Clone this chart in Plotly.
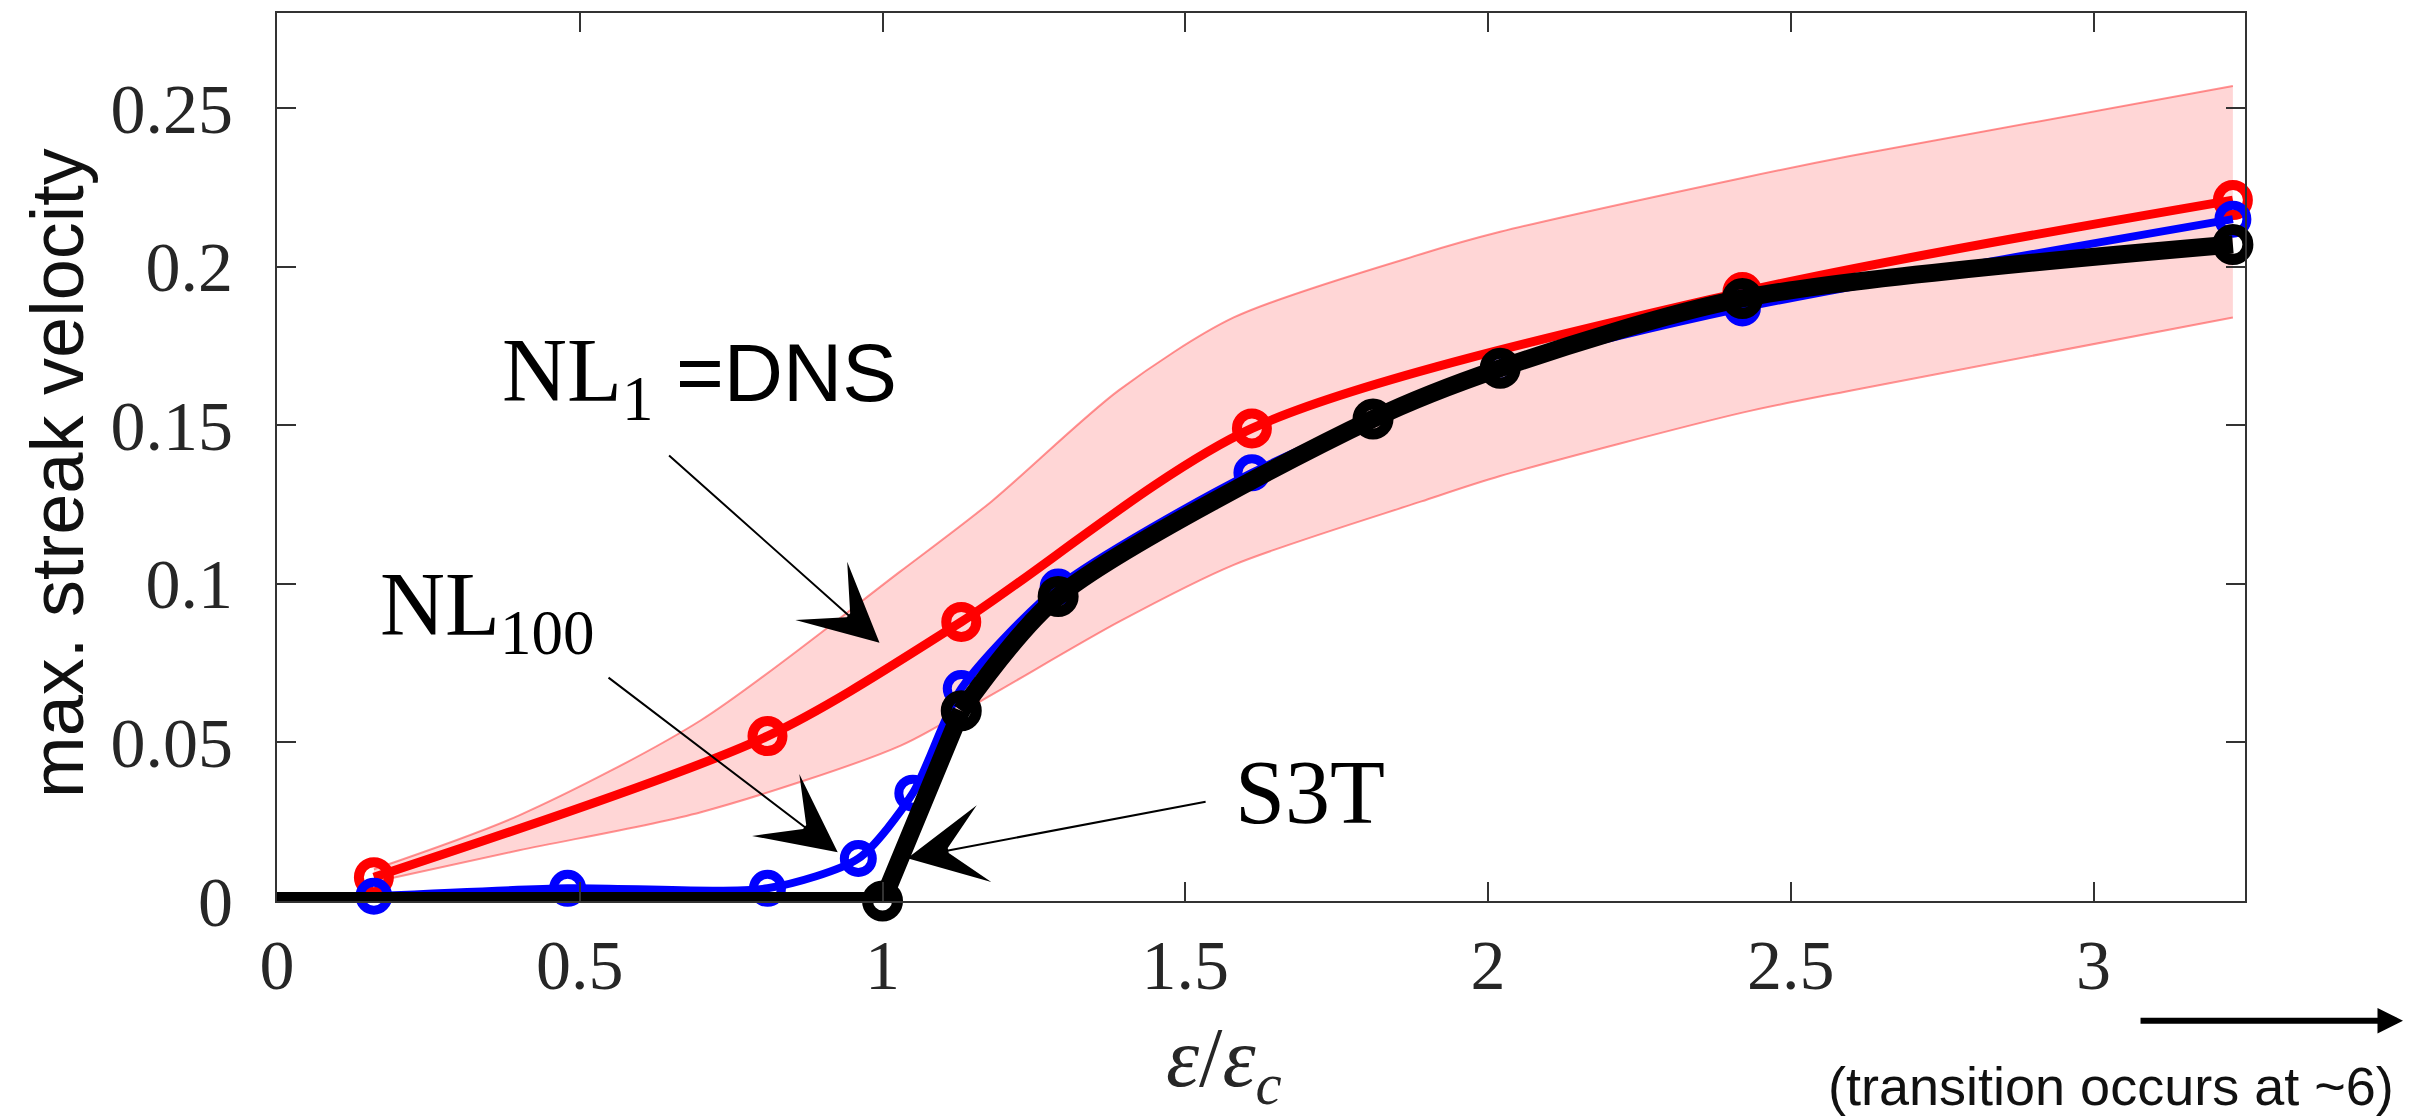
import plotly.graph_objects as go

# Sample points in epsilon / epsilon_c for each model
x_nl1 = [0.16, 0.81, 1.13, 1.61, 2.42, 3.23]
v_nl1 = [0.0075, 0.052, 0.088, 0.149, 0.192, 0.221]

x_nl100 = [0.16, 0.48, 0.81, 0.96, 1.05, 1.13, 1.29, 1.61, 2.02, 2.42, 3.23]
v_nl100 = [0.0015, 0.004, 0.004, 0.0134, 0.034, 0.067, 0.099, 0.135, 0.168, 0.187, 0.215]

x_s3t = [0.0, 1.0, 1.13, 1.29, 1.81, 2.02, 2.42, 3.23]
v_s3t = [0.0, 0.0, 0.060, 0.096, 0.152, 0.168, 0.190, 0.207]

# Spread of the NL1 (DNS) streak amplitude
x_band = [0.16, 0.4, 0.7, 1.03, 1.18, 1.39, 1.58, 1.89, 2.02, 2.42, 2.6, 3.23]
band_hi = [0.010, 0.027, 0.057, 0.104, 0.126, 0.161, 0.184, 0.204, 0.211, 0.228, 0.235, 0.257]
band_lo = [0.006, 0.016, 0.028, 0.049, 0.065, 0.088, 0.106, 0.126, 0.134, 0.154, 0.161, 0.184]

x_ticks = [0, 0.5, 1, 1.5, 2, 2.5, 3]
x_tick_text = ["0", "0.5", "1", "1.5", "2", "2.5", "3"]
y_ticks = [0, 0.05, 0.1, 0.15, 0.2, 0.25]
y_tick_text = ["0", "0.05", "0.1", "0.15", "0.2", "0.25"]

SERIF = "Liberation Serif, Times New Roman, serif"
SANS = "Liberation Sans, Arial, Helvetica, sans-serif"
BAND_EDGE = "rgba(255,60,60,0.55)"

fig = go.Figure()

# shaded spread
fig.add_trace(go.Scatter(x=x_band, y=band_lo, mode="lines",
                         line=dict(color=BAND_EDGE, width=2, shape="spline", smoothing=0.8),
                         hoverinfo="skip", showlegend=False))
fig.add_trace(go.Scatter(x=x_band, y=band_hi, mode="lines", fill="tonexty",
                         fillcolor="rgba(255,0,0,0.16)",
                         line=dict(color=BAND_EDGE, width=2, shape="spline", smoothing=0.8),
                         hoverinfo="skip", showlegend=False))

# NL1 = DNS
fig.add_trace(go.Scatter(x=x_nl1, y=v_nl1, mode="lines+markers",
                         line=dict(color="#ff0000", width=9, shape="spline", smoothing=0.8),
                         marker=dict(symbol="circle-open", size=30, color="#ff0000",
                                     line=dict(width=10, color="#ff0000")),
                         cliponaxis=False, showlegend=False))

# NL100
fig.add_trace(go.Scatter(x=x_nl100, y=v_nl100, mode="lines+markers",
                         line=dict(color="#0000ff", width=8, shape="spline", smoothing=0.7),
                         marker=dict(symbol="circle-open", size=28, color="#0000ff",
                                     line=dict(width=9, color="#0000ff")),
                         cliponaxis=False, showlegend=False))

# S3T: flat until the instability, then a smooth branch
fig.add_trace(go.Scatter(x=x_s3t[:3], y=v_s3t[:3], mode="lines",
                         line=dict(color="#000000", width=18),
                         showlegend=False))
fig.add_trace(go.Scatter(x=x_s3t[2:], y=v_s3t[2:], mode="lines",
                         line=dict(color="#000000", width=18, shape="spline", smoothing=0.8),
                         showlegend=False))
fig.add_trace(go.Scatter(x=x_s3t[1:], y=v_s3t[1:], mode="markers",
                         marker=dict(symbol="circle-open", size=30, color="#000000",
                                     line=dict(width=11, color="#000000")),
                         cliponaxis=False, showlegend=False))

axis_common = dict(showline=True, linecolor="#333333", linewidth=2, mirror="ticks",
                   ticks="inside", ticklen=19, tickwidth=2, tickcolor="#333333",
                   showgrid=False, zeroline=False,
                   tickfont=dict(family=SERIF, size=70, color="#262626"))

fig.update_xaxes(range=[0, 3.25], tickvals=x_ticks, ticktext=x_tick_text,
                 ticklabelstandoff=2, **axis_common)
fig.update_yaxes(range=[0, 0.28], tickvals=y_ticks, ticktext=y_tick_text,
                 ticklabelstandoff=28, **axis_common)

annotations = [
    # axis titles and the note below the axis (paper coordinates)
    dict(x=-0.1113, y=0.482, xref="paper", yref="paper", text="max. streak velocity",
         textangle=-90, font=dict(family=SANS, size=74, color="#111111")),
    dict(x=0.4812, y=-0.183, xref="paper", yref="paper",
         text="<i>ε</i>/<i>ε</i><sub><i>c</i></sub>",
         font=dict(family=SERIF, size=84, color="#262626")),
    dict(x=0.9319, y=-0.2079, xref="paper", yref="paper", text="(transition occurs at ~6)",
         font=dict(family=SANS, size=54, color="#111111")),
    # curve labels (data coordinates)
    dict(x=0.368, y=0.165, xref="x", yref="y", xanchor="left",
         text="NL<sub>1</sub> <span style=\"font-family:Liberation Sans, Arial;font-size:82px\">=DNS</span>",
         font=dict(family=SERIF, size=90, color="#000000")),
    dict(x=0.167, y=0.0912, xref="x", yref="y", xanchor="left", text="NL<sub>100</sub>",
         font=dict(family=SERIF, size=90, color="#000000")),
    dict(x=1.579, y=0.0343, xref="x", yref="y", xanchor="left", text="S3T",
         font=dict(family=SERIF, size=90, color="#000000")),
]
for a in annotations:
    a.setdefault("xanchor", "center")
    a.update(showarrow=False, yanchor="middle")

# pointer arrows (tail -> head), data coordinates
arrows = [
    ((0.645, 0.1409), (0.995, 0.0814)),
    ((0.545, 0.0708), (0.926, 0.0154)),
    ((1.536, 0.0314), (1.041, 0.0135)),
]
for (tx, ty), (hx, hy) in arrows:
    annotations.append(dict(x=hx, y=hy, ax=tx, ay=ty, xref="x", yref="y",
                            axref="x", ayref="y", text="", showarrow=True,
                            arrowhead=3, arrowsize=6.5, arrowwidth=2, arrowcolor="#000000",
                            standoff=0))
# arrow pointing past the right end of the axis (tail offset in pixels)
annotations.append(dict(x=1.0803, y=-0.1348, ax=-264, ay=0, xref="paper", yref="paper",
                        axref="pixel", ayref="pixel", text="", showarrow=True,
                        arrowhead=2, arrowsize=0.85, arrowwidth=6, arrowcolor="#000000",
                        standoff=0))

fig.update_layout(width=2412, height=1117,
                  margin=dict(l=277, r=167, t=11, b=216, pad=0),
                  plot_bgcolor="white", paper_bgcolor="white",
                  annotations=annotations)

fig.write_html("out.html")
